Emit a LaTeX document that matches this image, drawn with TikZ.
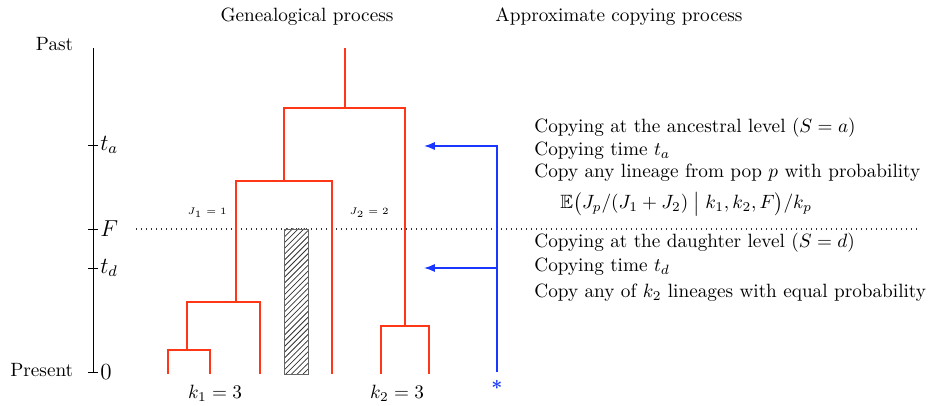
\documentclass[tikz,border=0pt]{standalone}
\usepackage{amsmath}
\usepackage{amssymb}
\usepackage{tikz}
\usetikzlibrary{arrows.meta,patterns}

\definecolor{lineagered}{RGB}{255,55,25}
\definecolor{copyblue}{RGB}{25,55,255}

\begin{document}
\begin{tikzpicture}[x=0.52pt, y=-0.52pt, every node/.style={font=\normalsize},
	tree/.style={lineagered, line width=0.8pt},
	copyline/.style={copyblue, line width=0.8pt, -{Latex[length=2mm]}},
	tick/.style={black, line width=0.5pt},
	copytext/.style={anchor=base west, inner sep=0pt}]
		\useasboundingbox (0,0) rectangle (928,406);

		% titles
		\node (gen) at (307,17) {Genealogical process};
		\node (app) at (619,17) {Approximate copying process};

		% time axis
		\coordinate (past) at (93,48);
		\coordinate (now) at (93,372);
		\draw[tick] (past) -- (now);
		\node[anchor=east] (pastlab) at (80,44) {Past};
		\node[anchor=east] (nowlab) at (80,370) {Present};
		\foreach \y/\lab/\nm in {145/t_a/ta, 229/F/f, 268/t_d/td, 372/0/zero} {
			\draw[tick] (88,\y) -- (98,\y);
			\node[anchor=west, inner sep=1pt, font=\large] (\nm) at (98,\y) {$\lab$};
		}

		% population split
		\coordinate (splitL) at (136,229);
		\coordinate (splitR) at (918,229);
		\draw[dotted, line width=0.6pt, black!80] (splitL) -- (splitR);
		\node[font=\tiny] (j1) at (207,213) {$J_1 = 1$};
		\node[font=\tiny] (j2) at (369,213) {$J_2 = 2$};

		% hatched bar
		\draw[black!60, pattern=north east lines, pattern color=black!80] (284,229) rectangle (308,374);

		% genealogy
		\coordinate (top) at (345,48);
		\coordinate (n0) at (345,108);
		\coordinate (n1) at (284,181);
		\coordinate (n2) at (236,302);
		\coordinate (n3) at (187,350);
		\coordinate (n4) at (405,326);
		\coordinate (l1) at (168,374);
		\coordinate (l2) at (210,374);
		\coordinate (l3) at (260,374);
		\coordinate (l4) at (332,374);
		\coordinate (l5) at (381,374);
		\coordinate (l6) at (429,374);
		\draw[tree] (top) -- (n0);
		\draw[tree] (n1) |- (n0) -| (n4);
		\draw[tree] (n2) |- (n1) -| (l4);
		\draw[tree] (n3) |- (n2) -| (l3);
		\draw[tree] (l1) |- (n3) -| (l2);
		\draw[tree] (l5) |- (n4) -| (l6);
		\node (k1) at (215,393) {$k_1 = 3$};
		\node (k2) at (397,393) {$k_2 = 3$};

		% copying process
		\node[copyblue, inner sep=1pt] (star) at (497,385) {$\boldsymbol{*}$};
		\coordinate (cbase) at (497,372);
		\coordinate (ctop) at (497,146);
		\coordinate (cmid) at (497,268);
		\coordinate (tipa) at (424,146);
		\coordinate (tipd) at (424,268);
		\draw[copyline] (cbase) -- (ctop) -- (tipa);
		\draw[copyline] (cmid) -- (tipd);

		\node[copytext] (sa) at (534,133) {Copying at the ancestral level ($S=a$)};
		\node[copytext] (cta) at (534,156) {Copying time $t_a$};
		\node[copytext] (cpa) at (534,178) {Copy any lineage from pop $p$ with probability};
		\node[copytext] (ex) at (560,209) {$\mathbb{E}\bigl(J_p/(J_1+J_2)\bigm| k_1,k_2,F\bigr)/k_p$};
		\node[copytext] (sd) at (534,248) {Copying at the daughter level ($S=d$)};
		\node[copytext] (ctd) at (534,272) {Copying time $t_d$};
		\node[copytext] (cpd) at (534,298) {Copy any of $k_2$ lineages with equal probability};
	\end{tikzpicture}
\end{document}
